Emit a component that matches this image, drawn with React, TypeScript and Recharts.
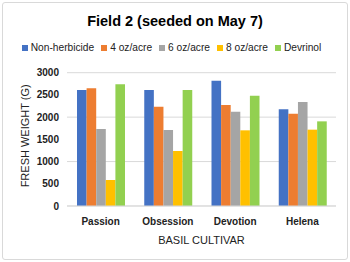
import { Bar, BarChart, CartesianGrid, XAxis, YAxis } from "recharts";

const cultivars = ["Passion", "Obsession", "Devotion", "Helena"];
const nonHerbicide = [2610, 2610, 2820, 2175];
const oz4 = [2648, 2235, 2273, 2078];
const oz6 = [1733, 1710, 2123, 2340];
const oz8 = [585, 1238, 1703, 1718];
const devrinol = [2738, 2610, 2483, 1905];
const yTicks = [0, 500, 1000, 1500, 2000, 2500, 3000];

const data = cultivars.map((c, i) => ({
  cultivar: c,
  nonHerbicide: nonHerbicide[i],
  oz4: oz4[i],
  oz6: oz6[i],
  oz8: oz8[i],
  devrinol: devrinol[i],
}));

const series = [
  { key: "nonHerbicide", name: "Non-herbicide", color: "#4472C4" },
  { key: "oz4", name: "4 oz/acre", color: "#ED7D31" },
  { key: "oz6", name: "6 oz/acre", color: "#A5A5A5" },
  { key: "oz8", name: "8 oz/acre", color: "#FFC000" },
  { key: "devrinol", name: "Devrinol", color: "#92D050" },
];

const font = "'Liberation Sans', Arial, sans-serif";

export default function App() {
  return (
    <div style={{ position: "absolute", left: 0, top: 0, width: 350, height: 262, background: "#fff", fontFamily: font }}>
      <div style={{ position: "absolute", left: 2, top: 2, width: 344, height: 256, border: "1px solid #d9d9d9", borderRadius: 3 }} />
      <div style={{ position: "absolute", left: 0, top: 13, width: 350, textAlign: "center", fontSize: 14.5, fontWeight: "bold", color: "#000" }}>
        Field 2 (seeded on May 7)
      </div>
      <div style={{ position: "absolute", left: 0, top: 42, width: 350, display: "flex", justifyContent: "center", fontSize: 10.2, color: "#222", lineHeight: "12px" }}>
        {series.map((s) => (
          <div key={s.key} style={{ display: "flex", alignItems: "center", marginRight: 7 }}>
            <span style={{ width: 6, height: 6, background: s.color, marginRight: 3, display: "inline-block" }} />
            {s.name}
          </div>
        ))}
      </div>
      <BarChart width={350} height={262} data={data} margin={{ top: 72.7, right: 14, bottom: 6, left: 25 }}
        barSize={9.6} barGap={0} style={{ position: "absolute", left: 0, top: 0 }}>
        <CartesianGrid vertical={false} stroke="#d9d9d9" />
        <XAxis dataKey="cultivar" height={50} tickLine={false} axisLine={{ stroke: "#d9d9d9" }}
          tick={{ fontSize: 10, fontWeight: "bold", fill: "#222", fontFamily: font }} tickMargin={6}
          label={{ value: "BASIL CULTIVAR", position: "insideBottom", offset: 12, fontSize: 11, fill: "#222", fontFamily: font }} />
        <YAxis width={42} domain={[0, 3000]} ticks={yTicks} tickLine={false} axisLine={false}
          tick={{ fontSize: 10, fontWeight: "bold", fill: "#222", fontFamily: font }}
          label={{ value: "FRESH WEIGHT (G)", angle: -90, position: "insideLeft", offset: 0, dy: 48, fontSize: 11, fill: "#222", fontFamily: font }} />
        {series.map((s) => (
          <Bar key={s.key} dataKey={s.key} name={s.name} fill={s.color} isAnimationActive={false} />
        ))}
      </BarChart>
    </div>
  );
}
